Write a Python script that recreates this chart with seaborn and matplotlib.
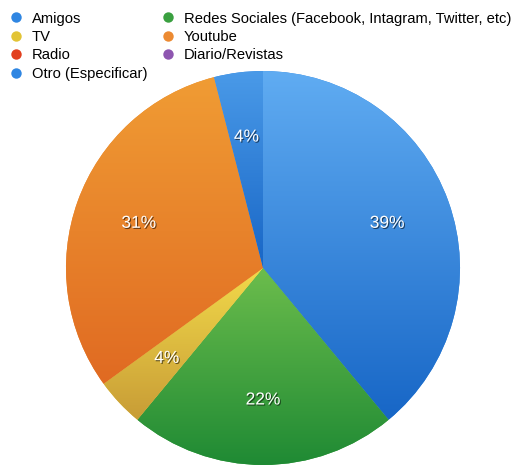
import numpy as np
import matplotlib
matplotlib.use("Agg")
import matplotlib.pyplot as plt
import matplotlib.patheffects as pe
from matplotlib.colors import LinearSegmentedColormap
from matplotlib.lines import Line2D
import seaborn as sns

# Survey answers: where did you hear about it?
categories = ["Amigos", "Redes Sociales (Facebook, Intagram, Twitter, etc)", "TV",
              "Youtube", "Radio", "Diario/Revistas", "Otro (Especificar)"]
shares = [39, 22, 4, 31, 0, 0, 4]

# Light (top) and dark (bottom) shade of each category
top_colors = ["#60acf2", "#6cbd4c", "#f2da4a", "#f09c34", "#ea4a2e", "#9e62bc", "#4a9ae8"]
bottom_colors = ["#1766c6", "#1f8a34", "#c89c36", "#e06a22", "#d8381e", "#7e4a9e", "#1866c6"]
legend_colors = ["#2f86e2", "#3aa040", "#e2c436", "#ec8a32", "#e2401e", "#8e56b0", "#2f86e2"]

sns.set_theme(style="white")
plt.rcParams["font.family"] = ["Liberation Sans", "DejaVu Sans"]
plt.rcParams["text.color"] = "black"

fig = plt.figure(figsize=(5.14, 4.70), dpi=100)
ax = fig.add_axes([0, 0, 1, 1])

# Only categories with answers get a slice
idx = [i for i, v in enumerate(shares) if v > 0]
vals = [shares[i] for i in idx]

wedges, texts, autotexts = ax.pie(
    vals,
    colors=[legend_colors[i] for i in idx],
    startangle=90,
    counterclock=False,
    center=(263, 202),
    radius=197,
    autopct=lambda p: f"{p:.0f}%",
    pctdistance=0.67,
    textprops=dict(color="white", fontsize=12.5),
    wedgeprops=dict(linewidth=0),
)

# Vertical shading inside every slice
for w, i in zip(wedges, idx):
    verts = w.get_patch_transform().transform(w.get_path().vertices)
    x0, x1 = verts[:, 0].min(), verts[:, 0].max()
    y0, y1 = verts[:, 1].min(), verts[:, 1].max()
    cmap = LinearSegmentedColormap.from_list("g", [bottom_colors[i], top_colors[i]])
    grad = np.linspace(0, 1, 256).reshape(-1, 1)
    im = ax.imshow(grad, cmap=cmap, origin="lower", aspect="auto",
                   extent=[x0, x1, y0, y1], zorder=w.get_zorder() + 0.1,
                   interpolation="bilinear")
    im.set_clip_path(w)

for t in autotexts:
    t.set_zorder(5)
    t.set_path_effects([pe.SimplePatchShadow(offset=(0.8, -0.8), shadow_rgbFace="black", alpha=0.55),
                        pe.Normal()])

ax.set_xlim(0, 514)
ax.set_ylim(0, 470)
ax.set_aspect("equal")
ax.axis("off")

# Legend laid out row by row in two columns
order = [0, 2, 4, 6, 1, 3, 5]
handles = [Line2D([], [], marker="o", linestyle="", markersize=7.5,
                  markerfacecolor=legend_colors[i], markeredgewidth=0)
           for i in order]
ax.legend(handles, [categories[i] for i in order], ncol=2, loc="upper left",
          bbox_to_anchor=(10 / 514, 1 - 11.5 / 470), frameon=False,
          fontsize=10.65, handlelength=0.8, handletextpad=0.68, labelcolor="black",
          labelspacing=0.3, columnspacing=1.0, borderpad=0, borderaxespad=0)

fig.savefig("out.png", dpi=100)
